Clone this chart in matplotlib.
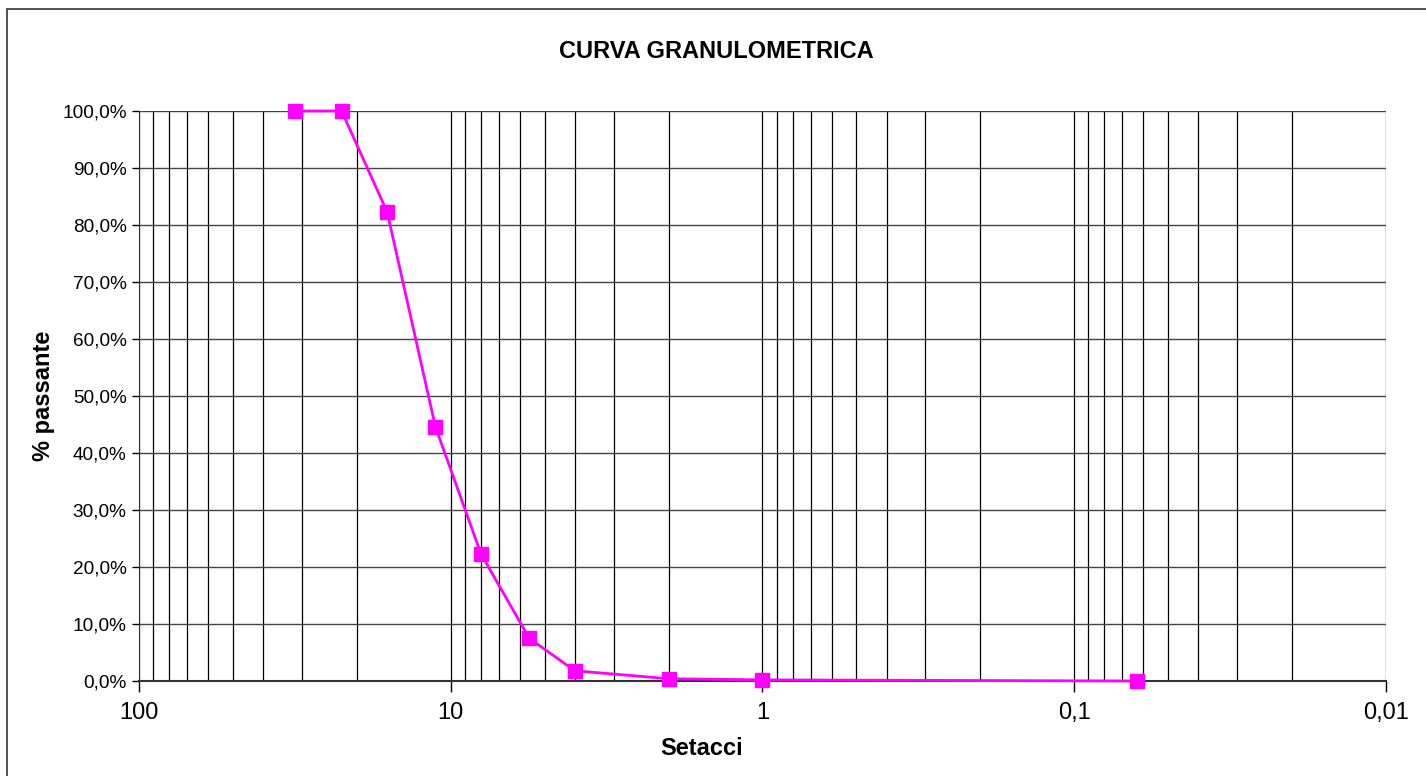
import matplotlib.pyplot as plt
from matplotlib.ticker import FixedLocator, LogLocator, FuncFormatter, NullFormatter
from matplotlib.patches import Rectangle

plt.rcParams['font.family'] = ['Liberation Sans', 'DejaVu Sans']

# sieve openings (mm) and percent passing
setacci = [31.5, 22.4, 16, 11.2, 8, 5.6, 4, 2, 1, 0.063]
passante = [100.0, 100.0, 82.3, 44.6, 22.3, 7.5, 1.8, 0.4, 0.2, 0.0]

x_ticks = [100, 10, 1, 0.1, 0.01]
x_labels = ['100', '10', '1', '0,1', '0,01']
y_ticks = list(range(0, 101, 10))

fig = plt.figure(figsize=(14.26, 7.76), dpi=100)
ax = fig.add_axes([0.0975, 0.1224, 0.8744, 0.7346])

ax.plot(setacci, passante, color='#FF00FF', lw=2, marker='s', clip_on=False,
        markersize=10, markerfacecolor='#FF00FF', markeredgecolor='#FF00FF', zorder=5)

ax.set_xscale('log')
ax.set_xlim(100, 0.01)
ax.set_ylim(0, 100)

ax.xaxis.set_major_locator(FixedLocator(x_ticks))
ax.set_xticklabels(x_labels)
ax.xaxis.set_minor_locator(LogLocator(base=10, subs=range(2, 10)))
ax.xaxis.set_minor_formatter(NullFormatter())
ax.set_yticks(y_ticks)
ax.yaxis.set_major_formatter(FuncFormatter(lambda v, p: f'{v:.1f}%'.replace('.', ',')))

ax.grid(True, which='both', axis='x', color='black', lw=0.9)
ax.grid(True, which='major', axis='y', color='#444444', lw=1.0)
ax.set_axisbelow(True)

ax.tick_params(axis='x', which='major', length=8, width=1, labelsize=17, pad=7)
ax.tick_params(axis='x', which='minor', length=0)
ax.tick_params(axis='y', length=5, width=1, labelsize=13.7, pad=4)

for s in ['top', 'right']:
    ax.spines[s].set_visible(False)
ax.spines['left'].set_color('#333333')
ax.spines['bottom'].set_color('#333333')
ax.spines['bottom'].set_linewidth(1.5)

ax.set_xlabel('Setacci', fontsize=17, fontweight='bold')
ax.xaxis.set_label_coords(0.4515, -0.098)
ax.set_ylabel('% passante', fontsize=17, fontweight='bold', labelpad=5)
fig.text(0.502, 0.933, 'CURVA GRANULOMETRICA', ha='center', va='center',
         fontsize=17, fontweight='bold')

# chart area border
fig.patches.append(Rectangle((7 / 1426, -0.1), 1.2, (776 - 9) / 776 + 0.1,
                             transform=fig.transFigure, fill=False,
                             edgecolor='#333333', lw=1.2))

fig.savefig('out.png', dpi=100)
